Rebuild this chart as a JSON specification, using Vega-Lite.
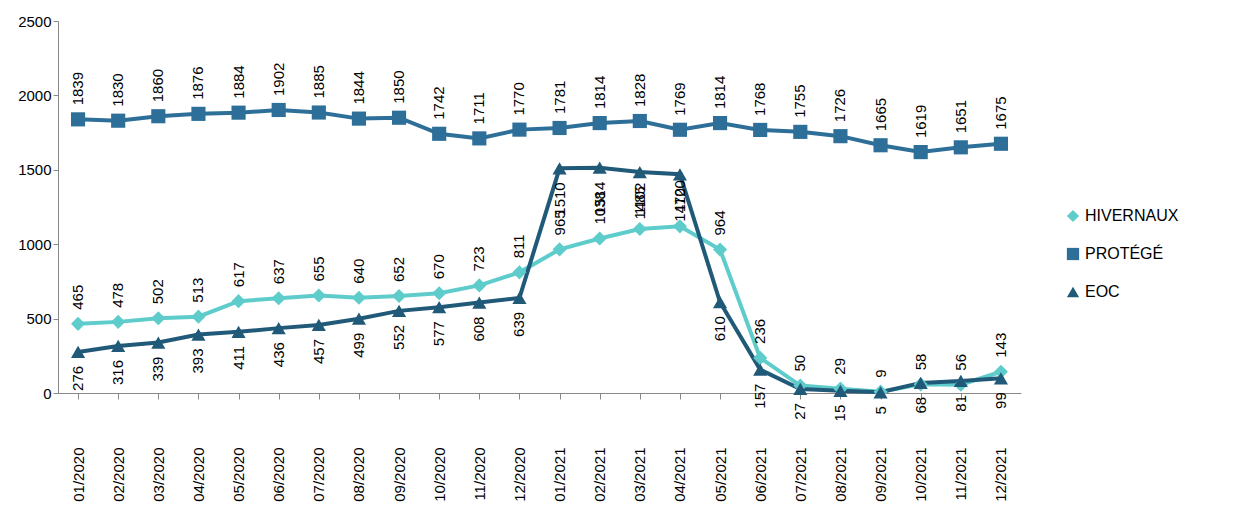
{
"$schema":"https://vega.github.io/schema/vega-lite/v6.json",
"width":963,"height":372,
"padding":{"left":17,"top":14,"right":10,"bottom":5},
"config":{"view":{"stroke":null},"font":"Liberation Sans"},
"data":{"values":[
{"m":"01/2020","P":1839,"H":465,"E":276},
{"m":"02/2020","P":1830,"H":478,"E":316},
{"m":"03/2020","P":1860,"H":502,"E":339},
{"m":"04/2020","P":1876,"H":513,"E":393},
{"m":"05/2020","P":1884,"H":617,"E":411},
{"m":"06/2020","P":1902,"H":637,"E":436},
{"m":"07/2020","P":1885,"H":655,"E":457},
{"m":"08/2020","P":1844,"H":640,"E":499},
{"m":"09/2020","P":1850,"H":652,"E":552},
{"m":"10/2020","P":1742,"H":670,"E":577},
{"m":"11/2020","P":1711,"H":723,"E":608},
{"m":"12/2020","P":1770,"H":811,"E":639},
{"m":"01/2021","P":1781,"H":965,"E":1510},
{"m":"02/2021","P":1814,"H":1038,"E":1514},
{"m":"03/2021","P":1828,"H":1102,"E":1485},
{"m":"04/2021","P":1769,"H":1120,"E":1470},
{"m":"05/2021","P":1814,"H":964,"E":610},
{"m":"06/2021","P":1768,"H":236,"E":157},
{"m":"07/2021","P":1755,"H":50,"E":27},
{"m":"08/2021","P":1726,"H":29,"E":15},
{"m":"09/2021","P":1665,"H":9,"E":5},
{"m":"10/2021","P":1619,"H":58,"E":68},
{"m":"11/2021","P":1651,"H":56,"E":81},
{"m":"12/2021","P":1675,"H":143,"E":99}
]},
"transform":[{"fold":["H","P","E"],"as":["k","v"]},
{"calculate":"datum.k=='H'?'HIVERNAUX':datum.k=='P'?'PROTÉGÉ':'EOC'","as":"s"}],
"encoding":{
"x":{"field":"m","type":"ordinal","sort":null,"title":null,"axis":{"labelAngle":-90,"labelFontSize":15,"labelColor":"#000","domainColor":"#888","tickColor":"#888","labelPadding":48,"tickSize":6}},
"y":{"field":"v","type":"quantitative","scale":{"domain":[0,2500]},"title":null,"axis":{"values":[0,500,1000,1500,2000,2500],"format":"d","labelFontSize":15,"labelColor":"#000","grid":false,"domainColor":"#888","tickColor":"#888"}},
"color":{"field":"s","type":"nominal","scale":{"domain":["HIVERNAUX","PROTÉGÉ","EOC"],"range":["#5fcccc","#2d6f98","#215a78"]},"legend":{"title":null,"labelFontSize":16,"labelColor":"#000","rowPadding":22,"orient":"none","legendX":1007,"legendY":187,"symbolSize":150,"symbolStrokeWidth":0}},
"shape":{"field":"s","type":"nominal","scale":{"domain":["HIVERNAUX","PROTÉGÉ","EOC"],"range":["diamond","square","triangle-up"]}}
},
"layer":[
{"mark":{"type":"line","strokeWidth":4},"encoding":{"shape":{"value":"circle"}}},
{"mark":{"type":"point","filled":true,"opacity":1},"encoding":{"size":{"value":200}}},
{"transform":[{"filter":"datum.k!='E'"}],"mark":{"type":"text","angle":-90,"align":"left","baseline":"middle","dx":14,"fontSize":15},"encoding":{"text":{"field":"v"},"color":{"value":"#000"},"shape":{"value":"circle"}}},
{"transform":[{"filter":"datum.k=='E'"}],"mark":{"type":"text","angle":-90,"align":"right","baseline":"middle","dx":-14,"fontSize":15},"encoding":{"text":{"field":"v"},"color":{"value":"#000"},"shape":{"value":"circle"}}}
]
}
